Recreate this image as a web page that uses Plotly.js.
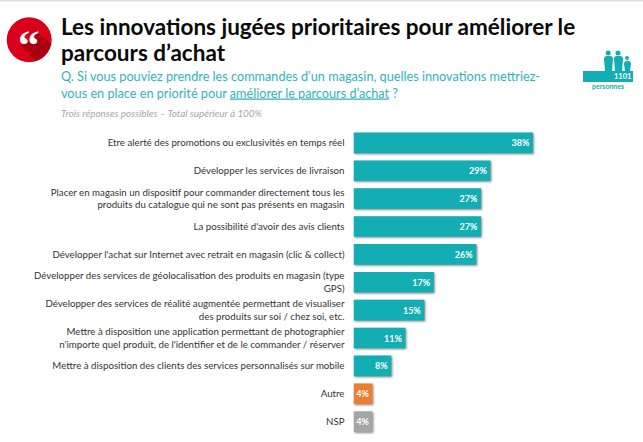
<!DOCTYPE html>
<html><head><meta charset="utf-8">
<script src="https://cdn.plot.ly/plotly-3.0.1.min.js"></script>
<style>
html,body{margin:0;padding:0;background:#fff;overflow:hidden}
#c{width:643px;height:442px}
.barlayer .point path{filter:drop-shadow(1.5px 1.5px 1px rgba(0,0,0,.45))}
</style></head><body><div id="c"></div>
<script>
const categories = [
 "Etre alerté des promotions ou exclusivités en temps réel",
 "Développer les services de livraison",
 "Placer en magasin un dispositif pour commander directement tous les<br>produits du catalogue qui ne sont pas présents en magasin",
 "La possibilité d'avoir des avis clients",
 "Développer l'achat sur Internet avec retrait en magasin (clic & collect)",
 "Développer des services de géolocalisation des produits en magasin (type<br>GPS)",
 "Développer des services de réalité augmentée permettant de visualiser<br>des produits sur soi / chez soi, etc.",
 "Mettre à disposition une application permettant de photographier<br>n'importe quel produit, de l'identifier et de le commander / réserver",
 "Mettre à disposition des clients des services personnalisés sur mobile",
 "Autre",
 "NSP"
];
const values = [38,29,27,27,26,17,15,11,8,4,4];
const TEAL="#12aeb3", ORANGE="#ed7d31", GREY="#a5a5a5";
const barColors = [TEAL,TEAL,TEAL,TEAL,TEAL,TEAL,TEAL,TEAL,TEAL,ORANGE,GREY];
const titleLines = ["Les innovations jugées prioritaires pour améliorer le","parcours d’achat"];
const questionText = "Q. Si vous pouviez prendre les commandes d’un magasin, quelles innovations mettriez-<br>vous en place en priorité pour <u>améliorer le parcours d’achat</u> ?";
const noteText = "Trois réponses possibles – Total supérieur à 100%";

const W=643,H=442,F="Lato, 'Open Sans', sans-serif";
const px=x=>x/W, py=y=>1-y/H;
const note=(text,x,y,size,color,extra)=>Object.assign({text,xref:"paper",yref:"paper",x:px(x),y:py(y),
  xanchor:"left",yanchor:"middle",align:"left",showarrow:false,borderpad:0,font:{family:F,size,color}},extra||{});
const shape=(type,x0,y0,x1,y1,color)=>({type,xref:"paper",yref:"paper",x0:px(x0),x1:px(x1),y0:py(y0),y1:py(y1),
  fillcolor:color,line:{width:0},layer:"above"});
const body=(x0,x1,y0,y1)=>({type:"path",xref:"paper",yref:"paper",layer:"above",fillcolor:TEAL,line:{width:0},
  path:`M${px(x0+1)},${py(y1)} L${px(x0)},${py(y0+3)} Q${px(x0)},${py(y0)} ${px(x0+3)},${py(y0)} L${px(x1-3)},${py(y0)} Q${px(x1)},${py(y0)} ${px(x1)},${py(y0+3)} L${px(x1-1)},${py(y1)} Z`});

const layout={
  width:W,height:H,margin:{l:0,r:0,t:0,b:0},paper_bgcolor:"#fff",plot_bgcolor:"rgba(0,0,0,0)",showlegend:false,
  bargap:0.26,
  xaxis:{domain:[353.5/W,1],range:[0,61.3],visible:false,fixedrange:true},
  yaxis:{domain:[6.4/H,313/H],type:"category",autorange:"reversed",automargin:false,showgrid:false,zeroline:false,showline:false,
    ticks:"",ticklen:0,tickfont:{family:F,size:9.7,color:"#333333"},ticklabelstandoff:8},
  shapes:[
    shape("rect",0,0,643,1.5,"#e0e0e0"),
    shape("circle",6.7,17.3,51.7,62.3,"#d9001b"),
    {type:"path",xref:"paper",yref:"paper",layer:"above",fillcolor:"#ab0012",line:{width:0},
      path:`M${px(21)},${py(46)} L${px(37)},${py(33)} L${px(51.3)},${py(44)} Q${px(47)},${py(57)} ${px(36)},${py(61)} Z`},
    shape("rect",583,71,633,82,TEAL),
    shape("circle",605.7,50.5,610.7,55.5,TEAL),
    shape("circle",615.5,50.5,620.5,55.5,TEAL),
    shape("circle",625,56,629,60,TEAL),
    body(604,613,56,71),
    body(614,623,56,71),
    body(624,631,61,71)
  ],
  annotations:[
    note("<b>"+titleLines[0]+"</b>",60,26.5,22.5,"#0a0a0a"),
    note("<b>"+titleLines[1]+"</b>",60,52.5,22.5,"#0a0a0a"),
    note(questionText,60,84.9,12.7,"#2fb4bd"),
    note("<i>"+noteText+"</i>",60,113.5,9.9,"#a6a6a6"),
    note("<b>“</b>",16.5,45,43,"#ffffff",{font:{family:"'Liberation Serif',serif",size:43,color:"#fff"}}),
    note("<b>1101</b>",613,76.5,7.5,"#ffffff"),
    note("<b>personnes</b>",590.5,86,7,TEAL)
  ]
};
const trace={type:"bar",orientation:"h",y:categories,x:values,
  marker:{color:barColors,line:{width:0}},
  texttemplate:"<b>%{x}%</b>",textposition:"inside",insidetextanchor:"end",textangle:0,constraintext:"none",
  textfont:{family:F,size:9,color:"#fff"},hoverinfo:"skip",cliponaxis:false};
Plotly.newPlot("c",[trace],layout,{displayModeBar:false,staticPlot:true});
</script></body></html>
